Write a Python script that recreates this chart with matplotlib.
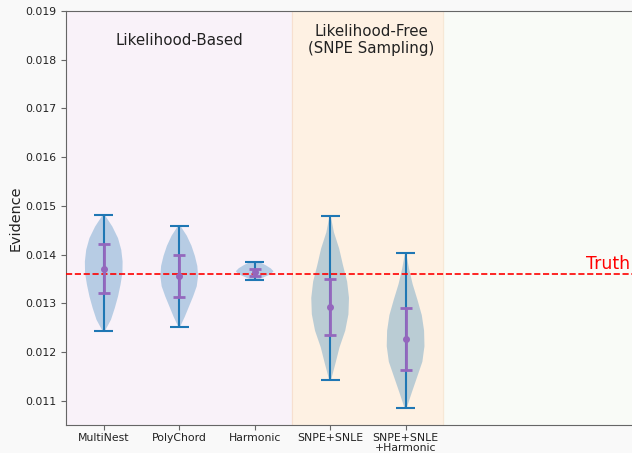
import numpy as np
import matplotlib
matplotlib.use('Agg')
import matplotlib.pyplot as plt

methods = ['MultiNest', 'PolyChord', 'Harmonic', 'SNPE+SNLE', 'SNPE+SNLE\n+Harmonic']
positions = [1, 2, 3, 4, 5]

# extremes of each violin
ev_min = [0.012422, 0.012518, 0.013476, 0.011424, 0.010842]
ev_max = [0.014815, 0.014596, 0.013837, 0.014795, 0.014030]
# mean +/- std (purple error bars)
ev_mean = [0.013708, 0.013564, 0.013632, 0.012922, 0.012266]
ev_std = [0.000507, 0.000427, 0.000079, 0.000582, 0.000636]
truth = 0.013591

# density profile of each violin, read top (max) -> bottom (min) at even steps
dens = [
    [0.05, 0.45, 0.75, 0.92, 0.99, 0.98, 0.88, 0.75, 0.58, 0.38, 0.05],
    [0.05, 0.4, 0.65, 0.83, 0.96, 1.0, 0.93, 0.74, 0.52, 0.3, 0.05],
    [0.3, 0.6, 0.85, 1.0, 0.85, 0.5, 0.15],
    [0.03, 0.2, 0.48, 0.68, 0.9, 1.0, 0.97, 0.8, 0.5, 0.28, 0.05],
    [0.03, 0.18, 0.37, 0.62, 0.85, 0.97, 0.99, 0.88, 0.6, 0.32, 0.05],
]

vpstats = []
for lo, hi, d, m in zip(ev_min, ev_max, dens, ev_mean):
    coords = np.linspace(hi, lo, len(d))
    vpstats.append(dict(coords=coords, vals=np.array(d), mean=m, median=m,
                        min=lo, max=hi))

fig = plt.figure(figsize=(6.32, 4.53), dpi=100, facecolor='#f9f9f9')
ax = fig.add_axes([66 / 632, 28 / 453, 566 / 632, 414 / 453])
ax.set_facecolor('#f9fbf7')

ax.axvspan(0.5, 3.5, color='#f9f2f9', zorder=0)
ax.axvspan(3.5, 5.5, color='#fef1e3', zorder=0)
ax.axvline(3.5, color='#f7dfcf', lw=0.8, zorder=0)
ax.axvline(5.5, color='#f7e8d6', lw=0.8, zorder=0)

parts = ax.violin(vpstats, positions=positions, widths=0.5, showextrema=True)
for b in parts['bodies']:
    b.set_facecolor('#1f77b4')
    b.set_alpha(0.3)
for k in ['cmaxes', 'cmins', 'cbars']:
    parts[k].set_color('#1f77b4')
    parts[k].set_linewidth(1.5)

ax.errorbar(positions, ev_mean, yerr=ev_std, fmt='o', color='tab:purple',
            ms=4, lw=2, capsize=4, capthick=2, zorder=5)

ax.axhline(truth, color='red', ls='--', lw=1.2, zorder=4)
ax.text(7.97, truth + 0.00003, 'Truth', color='red', fontsize=12.4, ha='right', va='bottom')

ax.text(2.0, 0.01840, 'Likelihood-Based', fontsize=10.8, ha='center', va='center', color='#222222')
ax.text(4.55, 0.01841, 'Likelihood-Free\n(SNPE Sampling)', fontsize=10.8, ha='center',
        va='center', color='#222222', linespacing=1.15)

ax.set_xlim(0.5, 8.0)
ax.set_ylim(0.0105, 0.019)
ax.set_xticks(positions)
ax.set_xticklabels(methods, fontsize=7.8, color='#222222', linespacing=1.0)
yt = np.arange(0.011, 0.0191, 0.001)
ax.set_yticks(yt)
ax.set_yticklabels(['%.3f' % v for v in yt], fontsize=7.8, color='#222222')
ax.set_ylabel('Evidence', fontsize=10.4, color='#222222', labelpad=2)
ax.spines['right'].set_visible(False)
for s in ['left', 'top', 'bottom']:
    ax.spines[s].set_color('#666666')
ax.tick_params(colors='#666666', labelcolor='#222222', length=3.5)
ax.tick_params(axis='x', pad=2.5)

fig.savefig('out.png', dpi=100, facecolor=fig.get_facecolor())
